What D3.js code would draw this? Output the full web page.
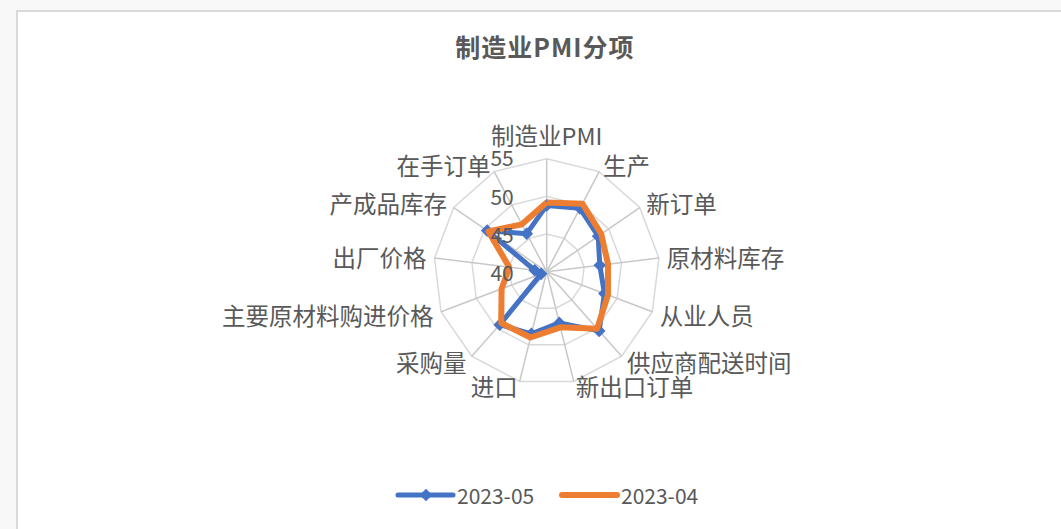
<!DOCTYPE html>
<html>
<head>
<meta charset="utf-8">
<script src="https://cdn.jsdelivr.net/npm/d3@7"></script>
<style>
  html, body { margin: 0; padding: 0; background: #f8f8f8; }
  svg { display: block; }
  text { font-family: "Noto Sans CJK SC", "Noto Sans", sans-serif; fill: #595959; }
</style>
</head>
<body>
<script>
'use strict';

// chart data
const categories = ["制造业PMI", "生产", "新订单", "原材料库存", "从业人员", "供应商配送时间",
  "新出口订单", "进口", "采购量", "主要原材料购进价格", "出厂价格", "产成品库存", "在手订单"];
const may2023 = [48.8, 49.5, 48.3, 47.1, 48.2, 50.5, 47.0, 48.5, 49.4, 40.8, 41.6, 49.6, 45.7];
const apr2023 = [49.2, 50.2, 48.8, 48.2, 48.7, 50.1, 47.6, 49.0, 49.1, 46.4, 45.0, 49.4, 47.1];
const seriesNames = ["2023-05", "2023-04"];
const radialTicks = [40, 45, 50, 55];

(function() {
  const width = 1061, height = 529;
  const cx = 546.7, cy = 271.7, R = 113;

  const svg = d3.select('body').append('svg')
    .attr('width', width)
    .attr('height', height);

  // chart frame
  svg.append('rect')
    .attr('x', 17).attr('y', 11)
    .attr('width', width + 20).attr('height', height + 20)
    .attr('fill', '#ffffff')
    .attr('stroke', '#d9d9d9')
    .attr('stroke-width', 2);

  svg.append('text')
    .attr('x', 545)
    .attr('y', 46)
    .attr('text-anchor', 'middle')
    .attr('dominant-baseline', 'central')
    .style('font-size', '25px')
    .style('font-weight', 'bold')
    .style('letter-spacing', '1px')
    .text('制造业PMI分项');

  const n = categories.length;
  const angle = d3.scaleLinear().domain([0, n]).range([0, 2 * Math.PI]);
  const r = d3.scaleLinear().domain([40, 55]).range([0, R]);

  const g = svg.append('g').attr('transform', `translate(${cx},${cy})`);

  const px = (i, v) => Math.sin(angle(i)) * r(v);
  const py = (i, v) => -Math.cos(angle(i)) * r(v);

  // rings
  radialTicks.slice(1).forEach(t => {
    g.append('path')
      .attr('d', d3.line()(d3.range(n + 1).map(i => [px(i % n, t), py(i % n, t)])))
      .attr('fill', 'none')
      .attr('stroke', '#d9d9d9')
      .attr('stroke-width', 1.5);
  });

  // spokes
  g.selectAll('.spoke')
    .data(categories)
    .enter()
    .append('line')
      .attr('x1', 0).attr('y1', 0)
      .attr('x2', (d, i) => px(i, 55))
      .attr('y2', (d, i) => py(i, 55))
      .attr('stroke', '#c8c8c8')
      .attr('stroke-width', 1.5);

  // series
  const radarLine = d3.line()
    .x((d, i) => px(i % n, d))
    .y((d, i) => py(i % n, d));

  g.append('path')
    .attr('d', radarLine(may2023.concat([may2023[0]])))
    .attr('fill', 'none')
    .attr('stroke', '#4472c4')
    .attr('stroke-width', 5)
    .attr('stroke-linejoin', 'round');

  const diamond = d3.symbol(d3.symbolSquare, 80);
  g.selectAll('.dot')
    .data(may2023)
    .enter()
    .append('path')
      .attr('d', diamond)
      .attr('transform', (d, i) => `translate(${px(i, d)},${py(i, d)}) rotate(45)`)
      .attr('fill', '#4472c4');

  g.append('path')
    .attr('d', radarLine(apr2023.concat([apr2023[0]])))
    .attr('fill', 'none')
    .attr('stroke', '#ed7d31')
    .attr('stroke-width', 6)
    .attr('stroke-linejoin', 'round');

  // radial tick labels
  g.selectAll('.rtick')
    .data(radialTicks)
    .enter()
    .append('text')
      .attr('x', -33)
      .attr('y', d => -r(d) - (d === 55 ? 2 : 0))
      .attr('text-anchor', 'end')
      .attr('dominant-baseline', 'central')
      .style('font-size', '21px')
      .text(d => d);

  // category labels
  g.selectAll('.cat')
    .data(categories)
    .enter()
    .append('text')
      .attr('x', (d, i) => Math.sin(angle(i)) * (R + 8))
      .attr('y', (d, i) => {
        let y = -Math.cos(angle(i)) * (R + 8);
        if (Math.abs(Math.sin(angle(i))) < 0.1) y -= 16 * Math.cos(angle(i));
        if (Math.cos(angle(i)) < -0.9) y -= 3;
        return y;
      })
      .attr('text-anchor', (d, i) => {
        let s = Math.sin(angle(i));
        return Math.abs(s) < 0.1 ? 'middle' : (s > 0 ? 'start' : 'end');
      })
      .attr('dominant-baseline', 'central')
      .style('font-size', '23.5px')
      .text(d => d);

  // legend
  const legend = svg.append('g');
  const items = [
    {name: seriesNames[0], color: '#4472c4', x: 398, w: 5, marker: true},
    {name: seriesNames[1], color: '#ed7d31', x: 562, w: 6, marker: false}
  ];
  items.forEach(it => {
    legend.append('line')
      .attr('x1', it.x).attr('x2', it.x + 55)
      .attr('y1', 495).attr('y2', 495)
      .attr('stroke', it.color)
      .attr('stroke-width', it.w)
      .attr('stroke-linecap', 'round');
    if (it.marker) {
      legend.append('path')
        .attr('d', diamond)
        .attr('transform', `translate(${it.x + 28},495) rotate(45)`)
        .attr('fill', it.color);
    }
    legend.append('text')
      .attr('x', it.x + 59)
      .attr('y', 495)
      .attr('dominant-baseline', 'central')
      .style('font-size', '21px')
      .text(it.name);
  });
})();
</script>
</body>
</html>
